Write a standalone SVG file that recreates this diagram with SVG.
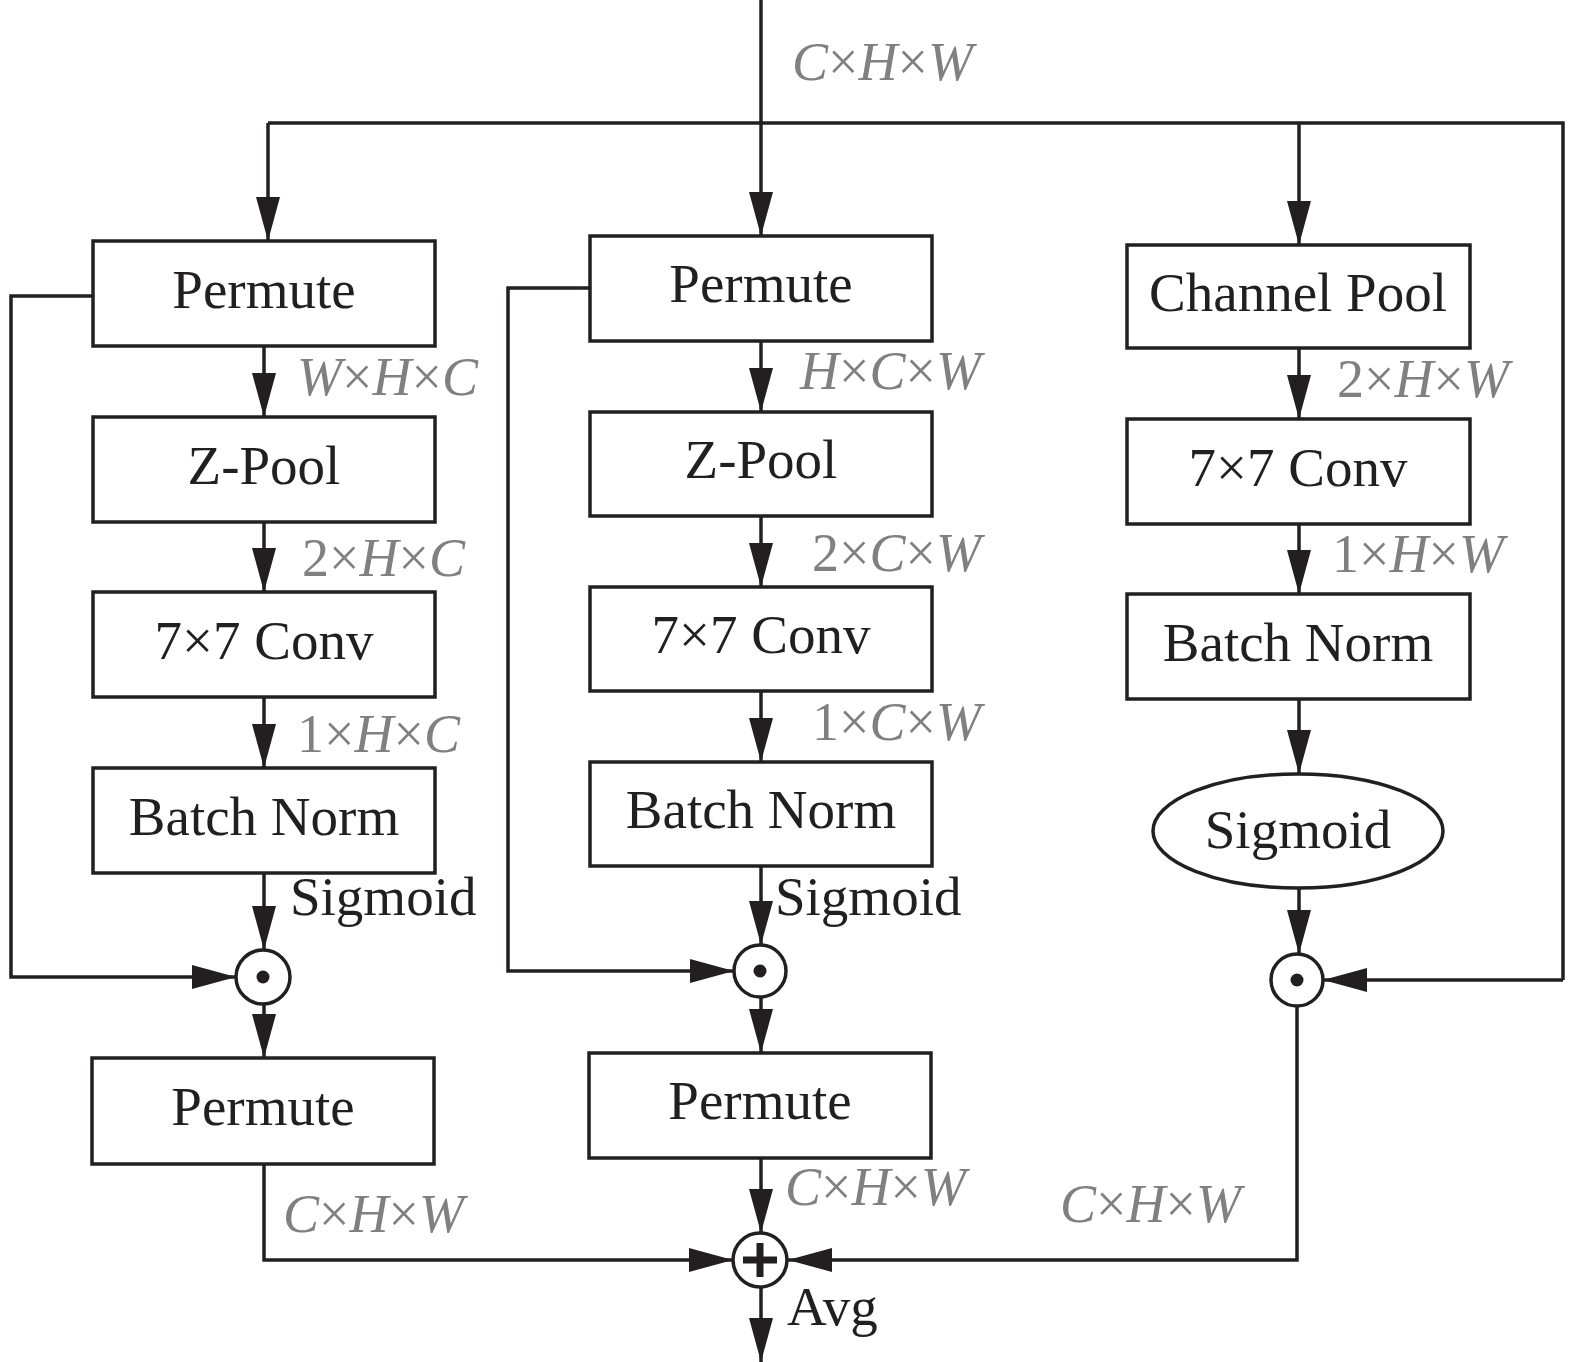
<svg xmlns="http://www.w3.org/2000/svg" width="1575" height="1362" viewBox="0 0 1575 1362">
<style>
.box{fill:#fff;stroke:#231f20;stroke-width:3.5}
.ln{fill:none;stroke:#231f20;stroke-width:3.5}
.arr{fill:none;stroke:#231f20;stroke-width:3.5;marker-end:url(#ah)}
.t{font-family:"Liberation Serif","Times New Roman",serif;font-size:55px;fill:#231f20}
.c{text-anchor:middle}
.d{font-family:"Liberation Serif","Times New Roman",serif;font-size:54px;fill:#808080}
.i{font-style:italic}
</style>
<defs>
<marker id="ah" markerUnits="userSpaceOnUse" markerWidth="44" markerHeight="24" refX="44" refY="12" orient="auto">
<path d="M0,0 L44,12 L0,24 z" fill="#231f20"/>
</marker>
</defs>
<rect width="1575" height="1362" fill="#fff"/>

<g id="connectors">
<!-- input and distribution -->
<path class="arr" d="M761,0 V236"/>
<path class="ln" d="M268,123 H1563 V980"/>
<path class="arr" d="M268,123 V241"/>
<path class="arr" d="M1299,123 V245"/>
<path class="arr" d="M1563,980 H1323"/>
<!-- left column -->
<path class="arr" d="M264,346 V417"/>
<path class="arr" d="M264,522 V592"/>
<path class="arr" d="M264,697 V768"/>
<path class="arr" d="M264,873 V950"/>
<path class="arr" d="M93,296 H11 V977 H236"/>
<path class="arr" d="M264,1004 V1058"/>
<path class="arr" d="M264,1164 V1260 H733"/>
<!-- middle column -->
<path class="arr" d="M761,341 V412"/>
<path class="arr" d="M761,516 V587"/>
<path class="arr" d="M761,691 V762"/>
<path class="arr" d="M761,866 V945"/>
<path class="arr" d="M590,288 H508 V971 H734"/>
<path class="arr" d="M761,997 V1053"/>
<path class="arr" d="M761,1158 V1233"/>
<path class="arr" d="M761,1287 V1362"/>
<!-- right column -->
<path class="arr" d="M1299,348 V419"/>
<path class="arr" d="M1299,524 V594"/>
<path class="arr" d="M1299,699 V774"/>
<path class="arr" d="M1299,888 V954"/>
<path class="arr" d="M1297,1006 V1260 H788"/>
</g>

<g id="dim-labels">
<text class="d" x="792" y="80"><tspan class="i">C</tspan>×<tspan class="i">H</tspan>×<tspan class="i">W</tspan></text>
<text class="d" x="297" y="395"><tspan class="i">W</tspan>×<tspan class="i">H</tspan>×<tspan class="i">C</tspan></text>
<text class="d" x="800" y="389"><tspan class="i">H</tspan>×<tspan class="i">C</tspan>×<tspan class="i">W</tspan></text>
<text class="d" x="1337" y="397">2×<tspan class="i">H</tspan>×<tspan class="i">W</tspan></text>
<text class="d" x="302" y="576">2×<tspan class="i">H</tspan>×<tspan class="i">C</tspan></text>
<text class="d" x="812" y="571">2×<tspan class="i">C</tspan>×<tspan class="i">W</tspan></text>
<text class="d" x="1332" y="572">1×<tspan class="i">H</tspan>×<tspan class="i">W</tspan></text>
<text class="d" x="297" y="752">1×<tspan class="i">H</tspan>×<tspan class="i">C</tspan></text>
<text class="d" x="812" y="740">1×<tspan class="i">C</tspan>×<tspan class="i">W</tspan></text>
<text class="d" x="283" y="1232"><tspan class="i">C</tspan>×<tspan class="i">H</tspan>×<tspan class="i">W</tspan></text>
<text class="d" x="785" y="1205"><tspan class="i">C</tspan>×<tspan class="i">H</tspan>×<tspan class="i">W</tspan></text>
<text class="d" x="1060" y="1222"><tspan class="i">C</tspan>×<tspan class="i">H</tspan>×<tspan class="i">W</tspan></text>
<text class="t" x="290" y="915">Sigmoid</text>
<text class="t" x="775" y="915">Sigmoid</text>
<text class="t" x="787" y="1325">Avg</text>
</g>

<!-- left column nodes -->
<g id="l-permute1"><rect class="box" x="93" y="241" width="342" height="105"/><text class="t c" x="264" y="308">Permute</text></g>
<g id="l-zpool"><rect class="box" x="93" y="417" width="342" height="105"/><text class="t c" x="264" y="484">Z-Pool</text></g>
<g id="l-conv"><rect class="box" x="93" y="592" width="342" height="105"/><text class="t c" x="264" y="659">7×7 Conv</text></g>
<g id="l-bn"><rect class="box" x="93" y="768" width="342" height="105"/><text class="t c" x="264" y="835">Batch Norm</text></g>
<g id="l-mul"><circle class="box" cx="263" cy="977" r="27"/><circle cx="263" cy="977" r="6.5" fill="#231f20"/></g>
<g id="l-permute2"><rect class="box" x="92" y="1058" width="342" height="106"/><text class="t c" x="263" y="1125">Permute</text></g>

<!-- middle column nodes -->
<g id="m-permute1"><rect class="box" x="590" y="236" width="342" height="105"/><text class="t c" x="761" y="302">Permute</text></g>
<g id="m-zpool"><rect class="box" x="590" y="412" width="342" height="104"/><text class="t c" x="761" y="478">Z-Pool</text></g>
<g id="m-conv"><rect class="box" x="590" y="587" width="342" height="104"/><text class="t c" x="761" y="653">7×7 Conv</text></g>
<g id="m-bn"><rect class="box" x="590" y="762" width="342" height="104"/><text class="t c" x="761" y="828">Batch Norm</text></g>
<g id="m-mul"><circle class="box" cx="760" cy="971" r="26"/><circle cx="760" cy="971" r="6.5" fill="#231f20"/></g>
<g id="m-permute2"><rect class="box" x="589" y="1053" width="342" height="105"/><text class="t c" x="760" y="1119">Permute</text></g>

<!-- right column nodes -->
<g id="r-chpool"><rect class="box" x="1127" y="245" width="343" height="103"/><text class="t c" x="1298" y="311">Channel Pool</text></g>
<g id="r-conv"><rect class="box" x="1127" y="419" width="343" height="105"/><text class="t c" x="1298" y="486">7×7 Conv</text></g>
<g id="r-bn"><rect class="box" x="1127" y="594" width="343" height="105"/><text class="t c" x="1298" y="661">Batch Norm</text></g>
<g id="r-sigmoid"><ellipse class="box" cx="1298" cy="831" rx="145" ry="57"/><text class="t c" x="1298" y="848">Sigmoid</text></g>
<g id="r-mul"><circle class="box" cx="1297" cy="980" r="26"/><circle cx="1297" cy="980" r="6.5" fill="#231f20"/></g>

<!-- sum -->
<g id="sum"><circle class="box" cx="760" cy="1260" r="27"/><path d="M743,1260 H777 M760,1243 V1277" stroke="#231f20" stroke-width="7" fill="none"/></g>
</svg>
